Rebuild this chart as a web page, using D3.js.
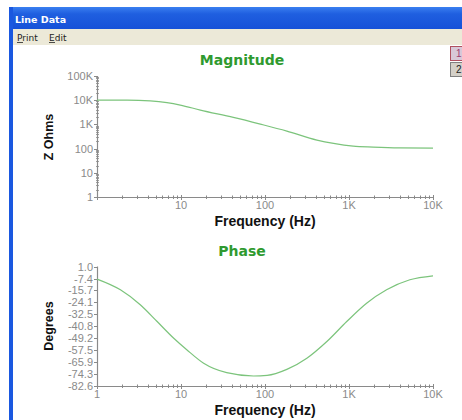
<!DOCTYPE html>
<html><head><meta charset="utf-8">
<script src="https://cdn.jsdelivr.net/npm/d3@7"></script>
<style>
html,body{margin:0;padding:0;background:#fff;overflow:hidden;}
svg{display:block;}
</style></head>
<body>
<svg id="c" width="462" height="420"></svg>
<script>
// ---- data ----
const freqs = [1, 2.3, 4.3, 6.8, 9.8, 17, 42, 88, 182, 415, 655, 1120, 1940, 4000, 10000];
const magnitude = [10000, 10000, 9300, 7900, 6300, 3900, 1950, 1030, 530, 224, 163, 126, 115, 107, 105];
const phaseFreqs = [1, 1.9, 3.3, 5.2, 8.2, 11.8, 18.6, 35, 73, 106, 182, 315, 545, 940, 1620, 2800, 5300, 10000];
const phase = [-7.8, -15.3, -25.9, -37.5, -49.2, -57.4, -66.7, -73.3, -75.6, -75.2, -71.0, -63.2, -51.5, -37.5, -24.7, -15.3, -8.3, -5.5];
const magTicks = [1, 10, 100, 1000, 10000, 100000];
const magTickLabels = ["1", "10", "100", "1K", "10K", "100K"];
const freqTicks = [1, 10, 100, 1000, 10000];
const freqTickLabels = ["1", "10", "100", "1K", "10K"];
const phaseTicks = [1.0, -7.4, -15.7, -24.1, -32.5, -40.8, -49.2, -57.5, -65.9, -74.3, -82.6];

const svg = d3.select("#c");
const green = "#2f9a2f";
const lineGreen = "#7cc47c";
const axisCol = "#8a8a8a";
const labCol = "#8a8a8a";

// ---- window chrome ----
const defs = svg.append("defs");
const g1 = defs.append("linearGradient").attr("id","tb").attr("x1",0).attr("y1",0).attr("x2",0).attr("y2",1);
g1.append("stop").attr("offset","0%").attr("stop-color","#3a7ff0");
g1.append("stop").attr("offset","30%").attr("stop-color","#1f5fe0");
g1.append("stop").attr("offset","100%").attr("stop-color","#1550d8");
svg.append("rect").attr("x",9).attr("y",7).attr("width",460).attr("height",23).attr("fill","url(#tb)");
svg.append("text").attr("x",15).attr("y",23).attr("fill","#fff").attr("font-family","DejaVu Sans, Verdana, sans-serif")
  .attr("font-weight","bold").attr("font-size",9.5).text("Line Data");
svg.append("rect").attr("x",9).attr("y",29).attr("width",460).attr("height",16).attr("fill","#ece9d8");
svg.append("text").attr("x",17).attr("y",41).attr("fill","#222").attr("font-family","DejaVu Sans, Verdana, sans-serif")
  .attr("font-size",9).text("Print");
svg.append("text").attr("x",49).attr("y",41).attr("fill","#222").attr("font-family","DejaVu Sans, Verdana, sans-serif")
  .attr("font-size",9).text("Edit");
svg.append("line").attr("x1",17).attr("x2",23).attr("y1",42.5).attr("y2",42.5).attr("stroke","#222").attr("stroke-width",0.8);
svg.append("line").attr("x1",49).attr("x2",55).attr("y1",42.5).attr("y2",42.5).attr("stroke","#222").attr("stroke-width",0.8);
svg.append("rect").attr("x",9).attr("y",7).attr("width",4).attr("height",413).attr("fill","#1a58e0");
// side buttons
svg.append("rect").attr("x",450.5).attr("y",46.5).attr("width",14).attr("height",14).attr("fill","#d8c8d8").attr("stroke","#b05060");
svg.append("text").attr("x",456).attr("y",57).attr("font-family","Liberation Sans, Arial").attr("font-size",10).attr("fill","#a04070").text("1");
svg.append("rect").attr("x",450.5).attr("y",62.5).attr("width",14).attr("height",14).attr("fill","#d4d0c8").attr("stroke","#808080");
svg.append("text").attr("x",456).attr("y",73).attr("font-family","Liberation Sans, Arial").attr("font-size",10).attr("fill","#222").text("2");

const X0 = 97, X1 = 433;
const font = "Liberation Sans, Arial, sans-serif";
const titleFont = "DejaVu Sans, Verdana, sans-serif";

function minorLogs(lo, hi){
  const out=[];
  for(let d=lo; d<hi; d*=10) for(let k=2;k<=9;k++) out.push(d*k);
  return out;
}

function drawXAxis(g, x, y0, showOne){
  g.append("line").attr("x1",X0).attr("x2",X1).attr("y1",y0+0.5).attr("y2",y0+0.5).attr("stroke",axisCol).attr("stroke-width",1.2);
  minorLogs(1,10000).forEach(v=>{
    g.append("line").attr("x1",Math.round(x(v))+0.5).attr("x2",Math.round(x(v))+0.5).attr("y1",y0-1.5).attr("y2",y0+2).attr("stroke",axisCol);
  });
  freqTicks.forEach((v,i)=>{
    g.append("line").attr("x1",Math.round(x(v))+0.5).attr("x2",Math.round(x(v))+0.5).attr("y1",y0-2).attr("y2",y0+3).attr("stroke",axisCol);
    if(i===0 && !showOne) return;
    g.append("text").attr("x",x(v)).attr("y",y0+12).attr("text-anchor","middle").attr("font-family",font)
      .attr("font-size",11).attr("fill",labCol).text(freqTickLabels[i]);
  });
}

// ---- Magnitude chart ----
const xM = d3.scaleLog().domain([1,10000]).range([X0,X1]);
const yM = d3.scaleLog().domain([1,100000]).range([197,76]);
const gm = svg.append("g");
gm.append("text").attr("x",242).attr("y",65).attr("text-anchor","middle").attr("font-family",titleFont)
  .attr("font-weight","bold").attr("font-size",14).attr("fill",green).text("Magnitude");
gm.append("line").attr("x1",X0+0.5).attr("x2",X0+0.5).attr("y1",76).attr("y2",197).attr("stroke",axisCol).attr("stroke-width",1.2);
minorLogs(1,100000).forEach(v=>{
  gm.append("line").attr("x1",X0-1).attr("x2",X0+2).attr("y1",Math.round(yM(v))+0.5).attr("y2",Math.round(yM(v))+0.5).attr("stroke",axisCol).attr("stroke-width",0.8);
});
magTicks.forEach((v,i)=>{
  gm.append("line").attr("x1",X0-3).attr("x2",X0+1).attr("y1",Math.round(yM(v))+0.5).attr("y2",Math.round(yM(v))+0.5).attr("stroke",axisCol);
  gm.append("text").attr("x",X0-4).attr("y",yM(v)+4).attr("text-anchor","end").attr("font-family",font)
    .attr("font-size",11).attr("fill",labCol).text(magTickLabels[i]);
});
drawXAxis(gm, xM, 197, false);
gm.append("text").attr("x",265).attr("y",226).attr("text-anchor","middle").attr("font-family",font)
  .attr("font-weight","bold").attr("font-size",14).attr("fill","#111").text("Frequency (Hz)");
gm.append("text").attr("transform","translate(53,137) rotate(-90)").attr("text-anchor","middle").attr("font-family",font)
  .attr("font-weight","bold").attr("font-size",12.5).attr("fill","#111").text("Z Ohms");
gm.append("path").datum(freqs.map((f,i)=>[f,magnitude[i]]))
  .attr("fill","none").attr("stroke",lineGreen).attr("stroke-width",1.2)
  .attr("d", d3.line().x(d=>xM(d[0])).y(d=>yM(d[1])).curve(d3.curveMonotoneX));

// ---- Phase chart ----
const xP = d3.scaleLog().domain([1,10000]).range([X0,X1]);
const yP = d3.scaleLinear().domain([-82.6,1.0]).range([386,266.5]);
const gp = svg.append("g");
gp.append("text").attr("x",242).attr("y",256).attr("text-anchor","middle").attr("font-family",titleFont)
  .attr("font-weight","bold").attr("font-size",14).attr("fill",green).text("Phase");
gp.append("line").attr("x1",X0+0.5).attr("x2",X0+0.5).attr("y1",266.5).attr("y2",386).attr("stroke",axisCol).attr("stroke-width",1.2);
phaseTicks.forEach(v=>{
  gp.append("line").attr("x1",X0-3).attr("x2",X0+1).attr("y1",Math.round(yP(v))+0.5).attr("y2",Math.round(yP(v))+0.5).attr("stroke",axisCol);
  gp.append("text").attr("x",X0-4).attr("y",yP(v)+4).attr("text-anchor","end").attr("font-family",font)
    .attr("font-size",11).attr("fill",labCol).text(v.toFixed(1));
});
drawXAxis(gp, xP, 386, true);
gp.append("text").attr("x",265).attr("y",415).attr("text-anchor","middle").attr("font-family",font)
  .attr("font-weight","bold").attr("font-size",14).attr("fill","#111").text("Frequency (Hz)");
gp.append("text").attr("transform","translate(53,326) rotate(-90)").attr("text-anchor","middle").attr("font-family",font)
  .attr("font-weight","bold").attr("font-size",12.5).attr("fill","#111").text("Degrees");
gp.append("path").datum(phaseFreqs.map((f,i)=>[f,phase[i]]))
  .attr("fill","none").attr("stroke",lineGreen).attr("stroke-width",1.2)
  .attr("d", d3.line().x(d=>xP(d[0])).y(d=>yP(d[1])).curve(d3.curveMonotoneX));
</script>
</body></html>
